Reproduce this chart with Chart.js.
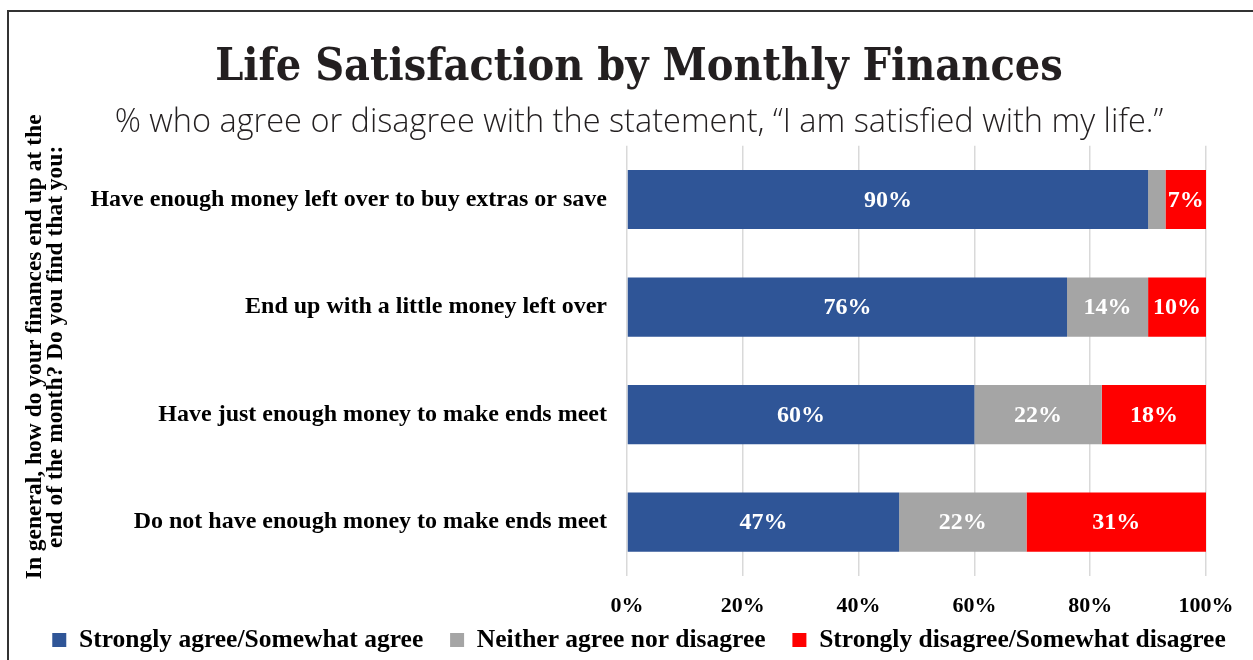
<!DOCTYPE html>
<html>
<head>
<meta charset="utf-8">
<script src="https://cdn.jsdelivr.net/npm/chart.js@4/dist/chart.umd.min.js"></script>
<style>
  html, body { margin: 0; padding: 0; background: #fff; overflow: hidden; }
  #wrap { position: relative; width: 1253px; height: 660px; }
  #frame { position: absolute; left: 7px; top: 10px; width: 1400px; height: 800px;
           border-top: 2.5px solid #333; border-left: 2.5px solid #333; box-sizing: border-box; }
  canvas { position: absolute; left: 0; top: 0; }
</style>
</head>
<body>
<div id="wrap">
  <div id="frame"></div>
  <canvas id="chart" width="1253" height="660"></canvas>
</div>
<script>
// Responses to "How do your finances end up at the end of the month?"
const categories = [
  "Have enough money left over to buy extras or save",
  "End up with a little money left over",
  "Have just enough money to make ends meet",
  "Do not have enough money to make ends meet"
];
const agree    = [90, 76, 60, 47];
const neutral  = [3, 14, 22, 22];
const disagree = [7, 10, 18, 31];
const seriesNames = [
  "Strongly agree/Somewhat agree",
  "Neither agree nor disagree",
  "Strongly disagree/Somewhat disagree"
];
const xTicks = [0, 20, 40, 60, 80, 100];
const questionLines = [
  "In general, how do your finances end up at the",
  "end of the month? Do you find that you:"
];

const SERIF = "'Liberation Serif', 'Times New Roman', serif";

// Writes each segment's percentage in the middle of its bar
const segmentLabels = {
  id: 'segmentLabels',
  afterDatasetsDraw(chart) {
    const ctx = chart.ctx;
    ctx.save();
    ctx.fillStyle = '#ffffff';
    ctx.font = 'bold 24px ' + SERIF;
    ctx.textAlign = 'center';
    ctx.textBaseline = 'middle';
    chart.data.datasets.forEach((ds, di) => {
      const meta = chart.getDatasetMeta(di);
      meta.data.forEach((bar, i) => {
        const v = ds.data[i];
        if (v < 5) return;
        const cx = (bar.x + bar.base) / 2;
        ctx.fillText(v + '%', cx, bar.y + 1);
      });
    });
    ctx.restore();
  }
};

// Rotated two-line question along the left side of the category axis
const questionTitle = {
  id: 'questionTitle',
  afterDraw(chart) {
    const ctx = chart.ctx;
    const area = chart.chartArea;
    const cy = (area.top + area.bottom) / 2 - 14;
    ctx.save();
    ctx.fillStyle = '#000';
    ctx.font = 'bold 23.5px ' + SERIF;
    ctx.textAlign = 'center';
    ctx.textBaseline = 'middle';
    questionLines.forEach((line, i) => {
      ctx.save();
      ctx.translate(35 + i * 20.5, cy);
      ctx.rotate(-Math.PI / 2);
      ctx.fillText(line, 0, 0);
      ctx.restore();
    });
    ctx.restore();
  }
};

new Chart(document.getElementById('chart'), {
  type: 'bar',
  data: {
    labels: categories,
    datasets: [
      { label: seriesNames[0], data: agree,    backgroundColor: '#2F5597' },
      { label: seriesNames[1], data: neutral,  backgroundColor: '#A5A5A5' },
      { label: seriesNames[2], data: disagree, backgroundColor: '#FF0000' }
    ]
  },
  options: {
    indexAxis: 'y',
    responsive: false,
    animation: false,
    devicePixelRatio: 1,
    categoryPercentage: 0.55,
    barPercentage: 1.0,
    layout: { padding: { left: 25, right: 0, top: 0, bottom: -2.75 } },
    scales: {
      x: {
        stacked: true,
        min: 0,
        max: 100,
        afterBuildTicks(scale) { scale.ticks = xTicks.map(v => ({ value: v })); },
        afterFit(scale) { scale.height = 43.5; },
        ticks: {
          callback: v => v + '%',
          color: '#000',
          font: { family: SERIF, size: 22, weight: 'bold' },
          padding: 17
        },
        grid: { color: '#d9d9d9', lineWidth: 1.5, drawTicks: false },
        border: { display: false }
      },
      y: {
        stacked: true,
        afterFit(scale) { scale.width = 627 - 25; },
        ticks: {
          color: '#000',
          font: { family: SERIF, size: 24, weight: 'bold' },
          padding: 20
        },
        grid: { display: false, drawTicks: false },
        border: { display: false }
      },
      // empty strip on the right so the plot ends short of the frame edge
      yEdge: {
        type: 'category',
        axis: 'y',
        position: 'right',
        ticks: { display: false },
        grid: { display: false, drawTicks: false },
        border: { display: false },
        afterFit(scale) { scale.width = 47; }
      }
    },
    plugins: {
      title: {
        display: true,
        text: 'Life Satisfaction by Monthly Finances',
        color: '#231f20',
        font: { family: "'DejaVu Serif Condensed', 'DejaVu Serif', serif", size: 44.5, weight: 'bold', lineHeight: 1.2 },
        padding: { top: 41.3, bottom: 10.6 }
      },
      subtitle: {
        display: true,
        text: '% who agree or disagree with the statement, \u201CI am satisfied with my life.\u201D',
        color: '#231f20',
        font: { family: "'Open Sans', Lato, sans-serif", size: 32.5, weight: '300', lineHeight: 1.07 },
        padding: { top: 0, bottom: 5.6 }
      },
      legend: {
        position: 'bottom',
        labels: {
          color: '#000',
          font: { family: SERIF, size: 25.5, weight: 'bold' },
          boxWidth: 14,
          boxHeight: 14,
          padding: 7.75,
          // widen the gap between entries without adding vertical space
          generateLabels(chart) {
            const items = Chart.defaults.plugins.legend.labels.generateLabels(chart);
            items.forEach((it, i) => { if (i < items.length - 1) it.text += '   '; });
            return items;
          }
        }
      },
      tooltip: { enabled: false }
    }
  },
  plugins: [segmentLabels, questionTitle]
});
</script>
</body>
</html>
